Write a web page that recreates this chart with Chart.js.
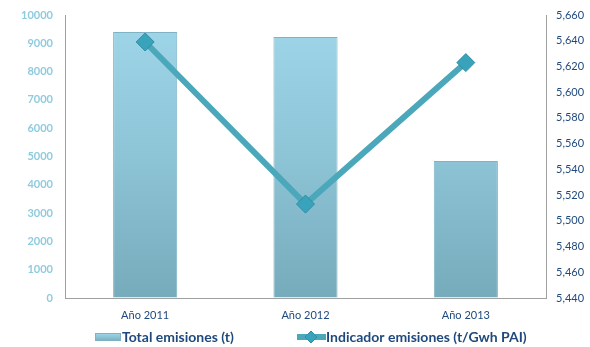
<!DOCTYPE html>
<html>
<head>
    <meta charset="utf-8">
    <title>Emisiones</title>
    <script src="https://cdn.jsdelivr.net/npm/chart.js"></script>
    <style>
        html, body { margin: 0; padding: 0; background: #fff; }
        #wrap { width: 590px; height: 347px; }
    </style>
</head>
<body>
    <div id="wrap">
        <canvas id="emisiones-chart" width="590" height="347"></canvas>
    </div>

    <script>
        'use strict';

        // Chart values
        const years = ['Año 2011', 'Año 2012', 'Año 2013'];
        const totalEmisiones = [9400, 9220, 4840];
        const indicadorEmisiones = [5639, 5513, 5623];
        const leftTicks = [0, 10000, 1000];     // min, max, step
        const rightTicks = [5440, 5660, 20];    // min, max, step
        const legendLabels = ['Total emisiones (t)', 'Indicador emisiones (t/Gwh PAI)'];

        const fontFamily = "Lato, 'Noto Sans', sans-serif";
        const darkBlue = '#1F497D';
        const lightBlue = '#8FCBDF';
        const lineColor = '#4BA8BA';
        const markerColor = '#3AA3BC';
        const axisColor = '#a0a0a0';

        function barGradient(ctx, top, bottom) {
            const g = ctx.createLinearGradient(0, top, 0, bottom);
            g.addColorStop(0, '#9FD6E9');
            g.addColorStop(0.5, '#8DC4D6');
            g.addColorStop(1, '#76ABBB');
            return g;
        }

        // vertical axes: fixed width, no extra room for half labels
        function fixWidth(w) {
            return function (s) {
                s.width = w;
                s.paddingTop = 0;
                s.paddingBottom = 0;
            };
        }

        // Legend drawn under the x axis
        const bottomLegend = {
            id: 'bottomLegend',
            afterDraw(chart) {
                const ctx = chart.ctx;
                const y = 337;
                ctx.save();
                // bar swatch
                ctx.fillStyle = barGradient(ctx, 333, 341);
                ctx.fillRect(95, 333, 26, 8);
                ctx.strokeStyle = '#7FB3C4';
                ctx.lineWidth = 1;
                ctx.strokeRect(95.5, 333.5, 25, 7);
                // line swatch
                ctx.strokeStyle = lineColor;
                ctx.lineWidth = 6;
                ctx.beginPath();
                ctx.moveTo(297, y);
                ctx.lineTo(326, y);
                ctx.stroke();
                ctx.fillStyle = markerColor;
                ctx.strokeStyle = '#2F8DA3';
                ctx.lineWidth = 1;
                ctx.beginPath();
                ctx.moveTo(311, y - 6);
                ctx.lineTo(317, y);
                ctx.lineTo(311, y + 6);
                ctx.lineTo(305, y);
                ctx.closePath();
                ctx.fill();
                ctx.stroke();
                // texts
                ctx.fillStyle = darkBlue;
                ctx.font = 'bold 14px ' + fontFamily;
                ctx.textBaseline = 'middle';
                ctx.textAlign = 'left';
                ctx.fillText(legendLabels[0], 122, y);
                ctx.fillText(legendLabels[1], 326, y);
                ctx.restore();
            }
        };

        const ctx = document.getElementById('emisiones-chart').getContext('2d');

        new Chart(ctx, {
            type: 'bar',
            data: {
                labels: years,
                datasets: [{
                    type: 'line',
                    label: legendLabels[1],
                    data: indicadorEmisiones,
                    yAxisID: 'y1',
                    borderColor: lineColor,
                    borderWidth: 6,
                    pointStyle: 'rectRot',
                    pointRadius: 9,
                    pointBackgroundColor: markerColor,
                    pointBorderColor: '#2F8DA3',
                    pointBorderWidth: 1,
                    tension: 0,
                    order: 0
                }, {
                    type: 'bar',
                    label: legendLabels[0],
                    data: totalEmisiones,
                    yAxisID: 'y',
                    backgroundColor: function (c) {
                        const area = c.chart.chartArea;
                        if (!area) return '#92C9DB';
                        return barGradient(c.chart.ctx, area.top, area.bottom);
                    },
                    borderColor: '#7FB3C4',
                    borderWidth: 1,
                    categoryPercentage: 0.8,
                    barPercentage: 0.5,
                    order: 1
                }]
            },
            options: {
                responsive: false,
                animation: false,
                layout: {
                    padding: { top: 15, bottom: 24, left: 0, right: 0 }
                },
                scales: {
                    x: {
                        grid: { display: true, drawOnChartArea: false, drawTicks: false },
                        border: { display: true, color: axisColor, width: 1 },
                        ticks: {
                            color: darkBlue,
                            padding: 11,
                            font: { family: fontFamily, size: 11 }
                        },
                        afterFit: function (s) { s.height = 25; }
                    },
                    y: {
                        position: 'left',
                        min: leftTicks[0],
                        max: leftTicks[1],
                        grid: { display: true, drawOnChartArea: false, drawTicks: false },
                        border: { display: true, color: axisColor, width: 1 },
                        ticks: {
                            stepSize: leftTicks[2],
                            color: lightBlue,
                            padding: 12,
                            font: { family: fontFamily, size: 11, weight: 'bold' },
                            callback: function (v) { return String(v); }
                        },
                        afterFit: fixWidth(65)
                    },
                    y1: {
                        position: 'right',
                        min: rightTicks[0],
                        max: rightTicks[1],
                        grid: { display: true, drawOnChartArea: false, drawTicks: false },
                        border: { display: true, color: axisColor, width: 1 },
                        ticks: {
                            stepSize: rightTicks[2],
                            color: darkBlue,
                            padding: 10,
                            font: { family: fontFamily, size: 11 },
                            callback: function (v) {
                                return v.toLocaleString('en-US');
                            }
                        },
                        afterFit: fixWidth(44)
                    }
                },
                plugins: {
                    legend: { display: false },
                    tooltip: { enabled: false }
                }
            },
            plugins: [bottomLegend]
        });
    </script>
</body>
</html>
